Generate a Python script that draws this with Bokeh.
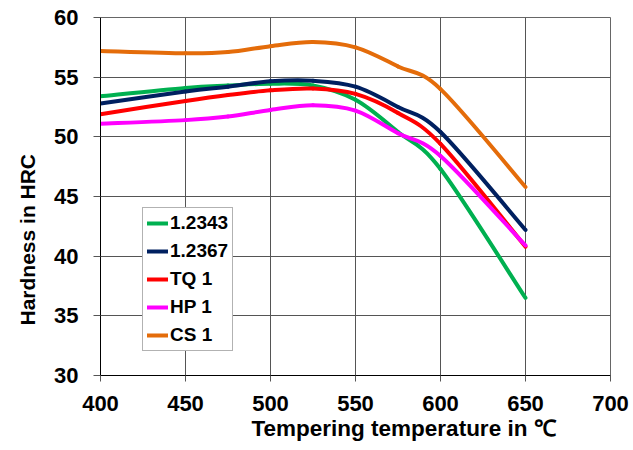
from bokeh.plotting import figure
from bokeh.models import Range1d, FixedTicker, Legend, LegendItem, Title
from bokeh.embed import file_html
from bokeh.resources import INLINE

# ---- data ----
temps = [400, 450, 475, 500, 525, 550, 575, 600, 650]
h_12343 = [53.4, 54.1, 54.3, 54.45, 54.3, 53.1, 50.4, 47.3, 36.5]
h_12367 = [52.8, 53.8, 54.2, 54.65, 54.7, 54.2, 52.5, 50.4, 42.2]
h_tq1 = [51.9, 53.0, 53.5, 53.9, 54.05, 53.6, 52.0, 49.4, 40.8]
h_hp1 = [51.1, 51.4, 51.7, 52.25, 52.65, 52.2, 50.3, 48.4, 40.9]
h_cs1 = [57.2, 57.0, 57.1, 57.6, 57.95, 57.5, 55.9, 54.0, 45.8]
series_names = ["1.2343", "1.2367", "TQ 1", "HP 1", "CS 1"]
x_ticks = [400, 450, 500, 550, 600, 650, 700]
y_ticks = [30, 35, 40, 45, 50, 55, 60]
x_title = "Tempering temperature in \u2103"
y_title = "Hardness in HRC"

colors = ["#00B050", "#002060", "#FF0000", "#FF00FF", "#E46C0A"]
FONT = "Liberation Sans"


def smooth_segments(xs, ys):
    """Control points for a smoothed (Catmull-Rom style) curve through the data."""
    n = len(xs)
    out = dict(x0=[], y0=[], x1=[], y1=[], cx0=[], cy0=[], cx1=[], cy1=[])
    for i in range(n - 1):
        im1 = max(i - 1, 0)
        ip2 = min(i + 2, n - 1)
        out["x0"].append(xs[i]); out["y0"].append(ys[i])
        out["x1"].append(xs[i + 1]); out["y1"].append(ys[i + 1])
        out["cx0"].append(xs[i] + (xs[i + 1] - xs[im1]) / 6.0)
        out["cy0"].append(ys[i] + (ys[i + 1] - ys[im1]) / 6.0)
        out["cx1"].append(xs[i + 1] - (xs[ip2] - xs[i]) / 6.0)
        out["cy1"].append(ys[i + 1] - (ys[ip2] - ys[i]) / 6.0)
    return out


p = figure(width=633, height=450, output_backend="svg", toolbar_location=None,
           x_range=Range1d(400, 700), y_range=Range1d(30, 60),
           min_border_left=96, min_border_right=23, min_border_top=17, min_border_bottom=75)
p.background_fill_color = "white"
p.border_fill_color = "white"
p.outline_line_color = "#666666"
p.outline_line_width = 1

for ax in (p.xaxis[0], p.yaxis[0]):
    ax.major_label_text_font = FONT
    ax.major_label_text_font_style = "bold"
    ax.major_label_text_font_size = "22px"
    ax.major_label_text_color = "black"
    ax.axis_line_color = "black"
    ax.axis_line_width = 1
    ax.major_tick_line_color = "#555555"
    ax.major_tick_in = 0
    ax.minor_tick_line_color = None

p.xaxis[0].ticker = FixedTicker(ticks=x_ticks)
p.yaxis[0].ticker = FixedTicker(ticks=y_ticks)
p.xaxis[0].major_tick_out = 6
p.yaxis[0].major_tick_out = 7
p.xaxis[0].major_label_standoff = 14
p.yaxis[0].major_label_standoff = 15

p.xgrid.ticker = FixedTicker(ticks=x_ticks)
p.ygrid.ticker = FixedTicker(ticks=y_ticks)
p.xgrid.grid_line_color = "#555555"
p.ygrid.grid_line_color = "#555555"
p.xgrid.grid_line_width = 1
p.ygrid.grid_line_width = 1

data_sets = [h_12343, h_12367, h_tq1, h_hp1, h_cs1]
items = []
for name, ys, col in zip(series_names, data_sets, colors):
    seg = smooth_segments(temps, ys)
    r = p.bezier(x0=seg["x0"], y0=seg["y0"], x1=seg["x1"], y1=seg["y1"],
                 cx0=seg["cx0"], cy0=seg["cy0"], cx1=seg["cx1"], cy1=seg["cy1"],
                 line_color=col, line_width=4, line_cap="round")
    items.append(LegendItem(label=name, renderers=[r]))

legend = Legend(items=items, location=(42, 24))
legend.label_text_font = FONT
legend.label_text_font_style = "bold"
legend.label_text_font_size = "19px"
legend.label_text_color = "black"
legend.glyph_width = 21
legend.glyph_height = 20
legend.label_height = 20
legend.label_standoff = 2
legend.spacing = 6
legend.padding = 4
legend.margin = 0
legend.border_line_color = "#666666"
legend.border_line_width = 1
legend.background_fill_color = "white"
legend.background_fill_alpha = 1
p.add_layout(legend, "center")

ytitle = Title(text=y_title, align="left", offset=50, standoff=26,
               text_font=FONT, text_font_style="bold", text_font_size="21px",
               text_color="black")
xtitle = Title(text=x_title, align="left", offset=151, standoff=0,
               text_font=FONT, text_font_style="bold", text_font_size="22.5px",
               text_color="black")
p.add_layout(ytitle, "left")
p.add_layout(xtitle, "below")

open("out.html", "w").write(file_html(p, INLINE))
